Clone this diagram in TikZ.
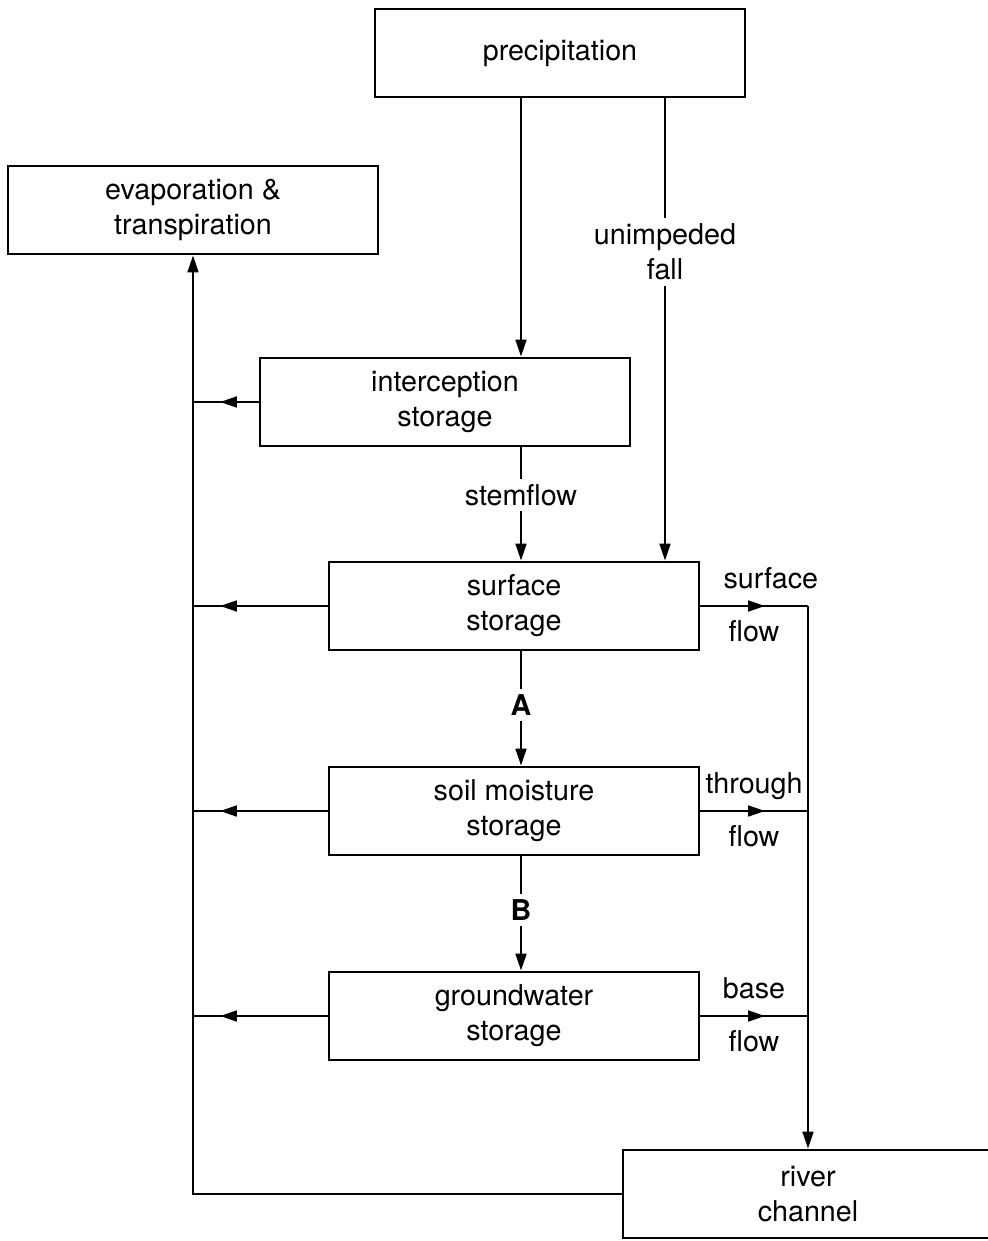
\documentclass[tikz,border=0pt]{standalone}
\usepackage{fontspec}
\setmainfont{TeX Gyre Heros}
\usepackage{tikz}
\usetikzlibrary{arrows.meta}
\usetikzlibrary{calc}
\usetikzlibrary{decorations.markings}

\tikzset{
  >={Triangle[length=0.42cm, width=0.27cm]},
  every picture/.style={line width=1.5pt},
  store/.style={draw, line width=1.5pt, align=center,
    minimum width=9.25cm, minimum height=2.22cm,
    font=\fontsize{20.4}{24.8}\selectfont},
  flowlab/.style={align=center, font=\fontsize{20.4}{24.8}\selectfont},
  toplab/.style={flowlab, anchor=base, yshift=0.43cm},
  botlab/.style={flowlab, anchor=base, yshift=-0.88cm},
  tipat/.style={
    decoration={markings, mark=at position #1 with {\arrow{>}}},
    postaction={decorate}}
}

\begin{document}
\begin{tikzpicture}[x=0.025cm, y=-0.025cm]

    \useasboundingbox (0,0) rectangle (987,1241);

    % stores
    \node [store] (precip) at (560,53) {precipitation};
    \node [store] (evap) at (193,210) {evaporation \&\\transpiration};
    \node [store] (inter) at (445,402) {interception\\storage};
    \node [store] (surf) at (514,606) {surface\\storage};
    \node [store] (soil) at (514,811) {soil moisture\\storage};
    \node [store] (ground) at (514,1016) {groundwater\\storage};
    \node [store] (river) at (808,1194) {river\\channel};

    % labels breaking the vertical lines
    \node [flowlab] (unimp) at (665,252) {unimpeded\\fall};
    \node [flowlab] (stem) at (521,495) {stemflow};
    \node [flowlab] (A) at (521,705) {\bfseries A};
    \node [flowlab] (B) at (521,910) {\bfseries B};

    % downward flows
    \draw [->] (precip.south -| stem) -- (inter.north -| stem);
    \draw (precip.south -| unimp) -- (unimp);
    \draw [->] (unimp) -- (surf.north -| unimp);
    \draw (inter.south -| stem) -- (stem);
    \draw [->] (stem) -- (surf.north -| stem);
    \draw (surf.south -| A) -- (A);
    \draw [->] (A) -- (soil.north -| A);
    \draw (soil.south -| B) -- (B);
    \draw [->] (B) -- (ground.north -| B);

    % losses to evaporation
    \draw [tipat=-0.675cm] (inter.west) -- (inter.west -| evap);
    \draw [tipat=-0.675cm] (surf.west) -- (surf.west -| evap);
    \draw [tipat=-0.675cm] (soil.west) -- (soil.west -| evap);
    \draw [tipat=-0.675cm] (ground.west) -- (ground.west -| evap);
    \draw [->] (river.west) -- (river.west -| evap) -- (evap.south);

    % flows to the river
    \draw [tipat=-1.075cm] (surf.east) -- (surf.east -| river)
    node [toplab, midway, xshift=0.42cm] {surface}
    node [botlab, midway] {flow};
    \draw [tipat=-1.075cm] (soil.east) -- (soil.east -| river)
    node [toplab, midway] {through}
    node [botlab, midway] {flow};
    \draw [tipat=-1.075cm] (ground.east) -- (ground.east -| river)
    node [toplab, midway] {base}
    node [botlab, midway] {flow};
    \draw [->] (surf.east -| river) -- (river.north);

  \end{tikzpicture}
\end{document}
